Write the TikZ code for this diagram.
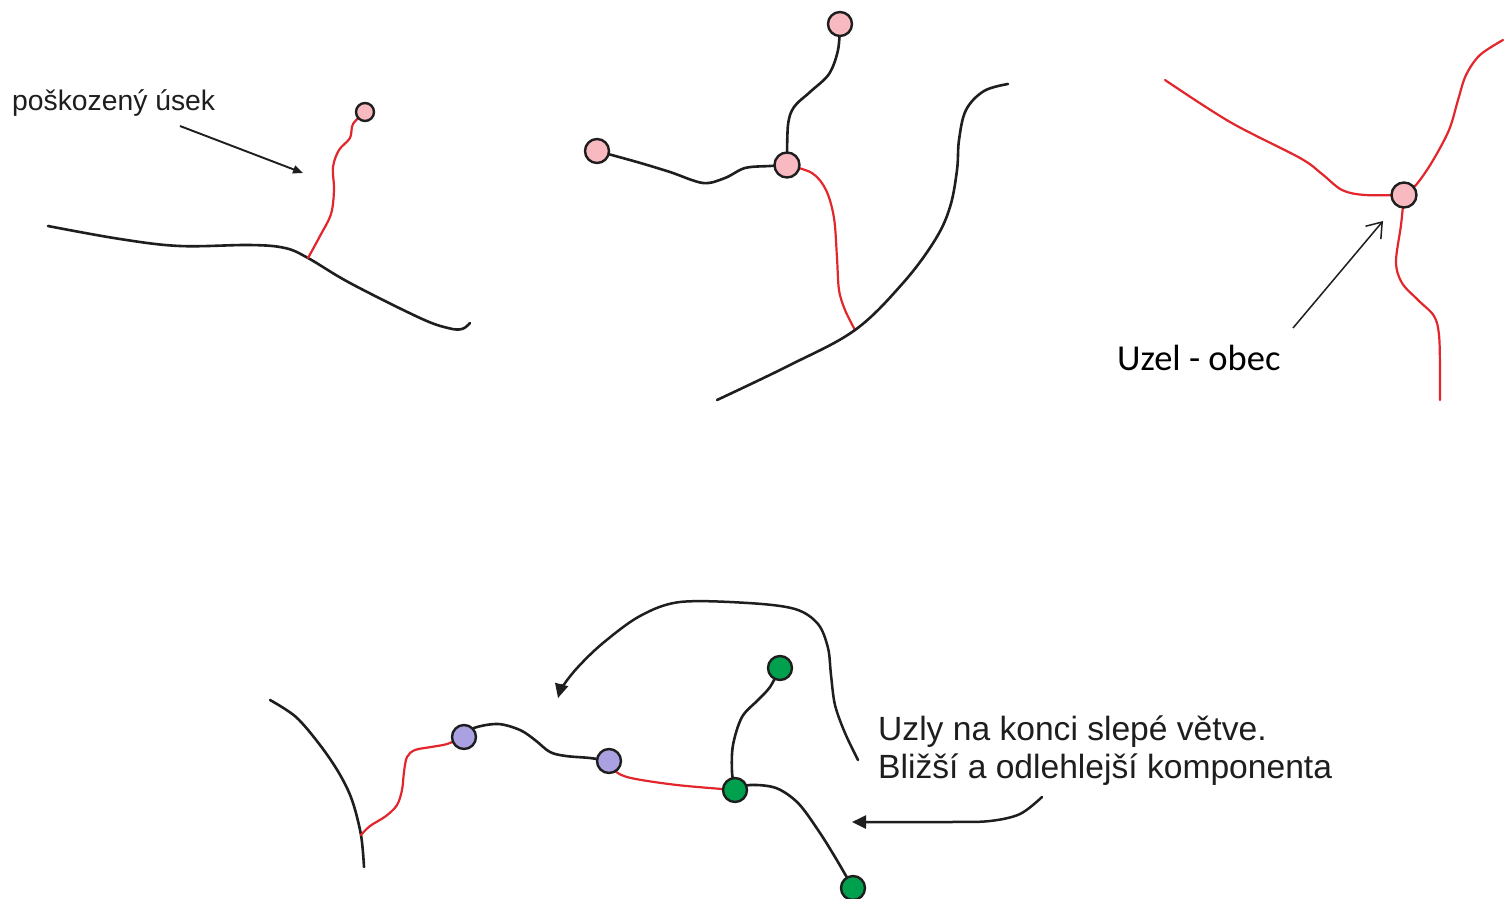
\documentclass[tikz,border=0pt]{standalone}
\usepackage{fontspec}
\setmainfont{Liberation Sans}
\newfontfamily\carlitofont{Carlito}
\usetikzlibrary{arrows.meta}
\definecolor{roadred}{HTML}{E3262B}
\definecolor{nodepink}{HTML}{F9B9C0}
\definecolor{nodepurple}{HTML}{A9A1E2}
\definecolor{nodegreen}{HTML}{00A04E}
\definecolor{ink}{HTML}{1E1E1E}
\begin{document}
\begin{tikzpicture}[x=1pt,y=-1pt,
  road/.style={draw=ink, line width=2.6pt, line cap=round, line join=round},
  broken/.style={draw=roadred, line width=2.2pt, line cap=round, line join=round},
  townbase/.style={circle, draw=ink, line width=2.4pt, inner sep=0pt},
  pinksmall/.style={townbase, fill=nodepink, minimum size=18pt},
  pinkbig/.style={townbase, fill=nodepink, minimum size=24pt},
  purplenode/.style={townbase, fill=nodepurple, minimum size=24pt},
  greennode/.style={townbase, fill=nodegreen, minimum size=24pt},
  pointer/.style={draw=ink, line width=1.9pt, -{Triangle[length=10pt,width=8pt]}},
  bigpointer/.style={draw=ink, line width=2.5pt, line cap=round, -{Triangle[length=14pt,width=13pt]}},
  openpointer/.style={draw=ink, line width=1.5pt, -{Straight Barb[length=14pt,width=20pt,line width=1.5pt]}},
  labelsans/.style={inner sep=0pt, font=\fontsize{28.3}{34}\selectfont, text=ink},
  labelbig/.style={inner sep=0pt, font=\fontsize{33.6}{38}\selectfont, text=ink},
  labelcal/.style={inner sep=0pt, font=\carlitofont\fontsize{36.5}{42}\selectfont, text=black}
]
\fill[white] (0,0) rectangle (1504,898);
\useasboundingbox (0,0) rectangle (1504,898);

% ---------- panel 1 ----------
\coordinate (p1) at (365,112);
\coordinate (j1) at (308,258);
\coordinate (m1a) at (48,226);
\coordinate (m1b) at (470,323);
\draw[road] plot[smooth,tension=0.6] coordinates {(m1a) (120,239) (180,246) (250,245) (285,248) (j1) (350,283) (420,318) (448,328) (462,329) (m1b)};
\draw[broken] plot[smooth,tension=0.55] coordinates {(j1) (320,236) (331,214) (334,190) (333,167) (339,150) (350,138) (353,124) (p1)};
\node[pinksmall] (n1) at (p1) {};
\node[labelsans, anchor=base west] (t1) at (12,110) {poškozený úsek};
\coordinate (a1s) at (180,126);
\coordinate (a1e) at (303,173);
\draw[pointer] (a1s) -- (a1e);

% ---------- panel 2 ----------
\coordinate (q1) at (840,24);
\coordinate (q2) at (597,151);
\coordinate (q3) at (787,165);
\coordinate (j2) at (855,330);
\coordinate (m2a) at (717,400);
\coordinate (m2b) at (1008,84);
\draw[road] plot[smooth,tension=0.55] coordinates {(q1) (838,50) (829,74) (810,92) (794,107) (788,125) (q3)};
\draw[road] plot[smooth,tension=0.55] coordinates {(q2) (637,162) (670,172) (703,183) (725,178) (745,168) (770,166) (q3)};
\draw[broken] plot[smooth,tension=0.55] coordinates {(q3) (812,173) (826,190) (834,218) (837,258) (839,290) (845,310) (j2)};
\draw[road] plot[smooth,tension=0.6] coordinates {(m2a) (790,365) (j2) (903,283) (935,240) (950,207) (957,170) (959,140) (966,110) (984,91) (m2b)};
\node[pinkbig] (n2) at (q1) {};
\node[pinkbig] (n3) at (q2) {};
\node[pinkbig, minimum size=25pt] (n4) at (q3) {};

% ---------- panel 3 ----------
\coordinate (h) at (1404,195);
\coordinate (r3a) at (1165,80);
\coordinate (r3b) at (1503,40);
\coordinate (r3c) at (1440,400);
\draw[broken] plot[smooth,tension=0.55] coordinates {(r3a) (1230,122) (1300,158) (1322,174) (1342,190) (1365,195) (h)};
\draw[broken] plot[smooth,tension=0.55] coordinates {(h) (1416,185) (1432,162) (1449,130) (1458,100) (1466,75) (1480,55) (r3b)};
\draw[broken] plot[smooth,tension=0.55] coordinates {(h) (1401,225) (1396,262) (1402,283) (1418,300) (1434,316) (1439,335) (1440,370) (r3c)};
\node[pinkbig, minimum size=25pt] (n5) at (h) {};
\coordinate (a3s) at (1293,328);
\coordinate (a3e) at (1383,221);
\draw[openpointer] (a3s) -- (a3e);
\node[labelcal, anchor=base west] (t3) at (1117,370) {Uzel - obec};

% ---------- panel 4 ----------
\coordinate (u1) at (464,737);
\coordinate (u2) at (609,761);
\coordinate (g1) at (735,790);
\coordinate (g2) at (780,668);
\coordinate (g3) at (853,888);
\coordinate (j4) at (361,835);
\coordinate (m4a) at (270,700);
\coordinate (m4b) at (364,867);
\draw[road] plot[smooth,tension=0.55] coordinates {(m4a) (296,717) (320,745) (339,773) (352,800) (j4) (m4b)};
\draw[broken] plot[smooth,tension=0.55] coordinates {(j4) (370,826) (386,816) (397,805) (402,790) (404,772) (407,757) (415,750) (431,747) (447,744) (u1)};
\draw[road] plot[smooth,tension=0.55] coordinates {(u1) (474,728) (498,724) (520,730) (535,740) (550,752) (566,756) (590,758) (u2)};
\draw[broken] plot[smooth,tension=0.55] coordinates {(u2) (615,771) (631,778) (677,785) (g1)};
\draw[road] plot[smooth,tension=0.55] coordinates {(g1) (732,772) (733,745) (742,717) (758,700) (770,687) (g2)};
\draw[road] plot[smooth,tension=0.55] coordinates {(g1) (750,785) (776,788) (798,803) (818,830) (835,857) (g3)};
\node[purplenode] (n6) at (u1) {};
\node[purplenode] (n7) at (u2) {};
\node[greennode] (n8) at (g1) {};
\node[greennode] (n9) at (g2) {};
\node[greennode] (n10) at (g3) {};

\coordinate (b1s) at (858,760);
\coordinate (b1e) at (558,698);
\draw[bigpointer] plot[smooth,tension=0.55] coordinates {(b1s) (845,733) (835,705) (831,675) (828,648) (818,624) (795,609) (748,603) (680,602) (640,616) (603,643) (578,667) (563,686) (b1e)};
\coordinate (b2s) at (1042,797);
\coordinate (b2e) at (852,822);
\draw[bigpointer] plot[smooth,tension=0.55] coordinates {(b2s) (1020,814) (990,821) (950,822) (b2e)};

\node[labelbig, anchor=base west] (t4) at (878,740) {Uzly na konci slepé větve.};
\node[labelbig, anchor=base west] (t5) at (878,778) {Bližší a odlehlejší komponenta};
\end{tikzpicture}
\end{document}
